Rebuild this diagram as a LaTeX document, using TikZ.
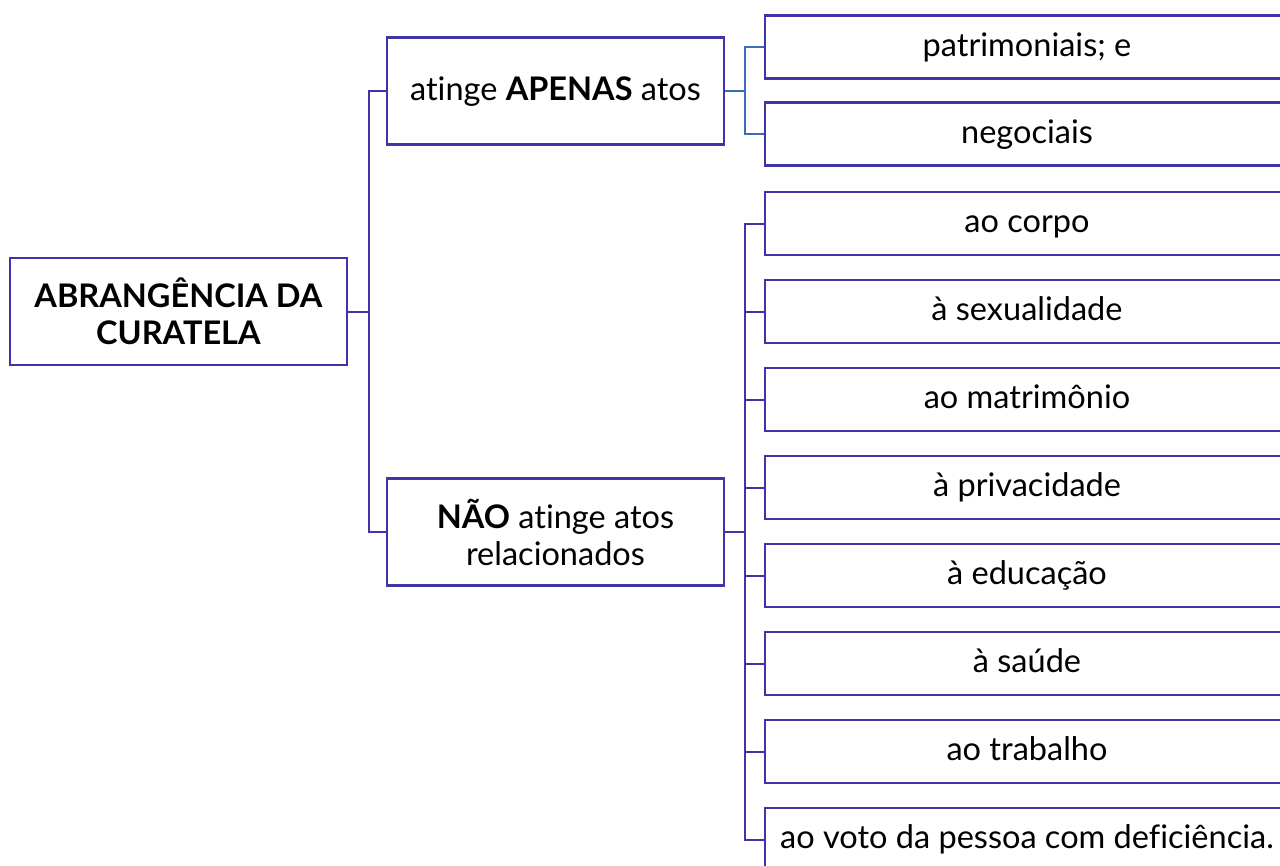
\documentclass[tikz,border=0pt]{standalone}
\usepackage{fontspec}
\setmainfont{Lato}[Ligatures={NoCommon}]
\definecolor{boxc}{HTML}{4035A8}
\definecolor{bluec}{HTML}{3E6DB8}
\begin{document}
\begin{tikzpicture}[x=1pt,y=-1pt,
  box/.style={draw=boxc,line width=2.4pt,fill=white,inner sep=0pt,align=center,
    font=\fontsize{32.5}{37}\selectfont,text=black},
  big/.style={box,minimum width=337pt,minimum height=107pt},
  leaf/.style={box,minimum width=524pt,minimum height=63pt,text height=25pt,text depth=7pt},
  conn/.style={draw=boxc,line width=2pt},
  connb/.style={draw=bluec,line width=2pt}]
\clip (0,0) rectangle (1280,865);
\fill[white] (0,0) rectangle (1280,865);
\node[big] (root) at (178.5,311.5) {\textbf{ABRANGÊNCIA DA}\\\textbf{CURATELA}};
\node[big,text height=25pt,text depth=7pt] (apenas) at (555.5,91) {atinge \textbf{APENAS} atos};
\node[big] (nao) at (555.5,532) {\textbf{NÃO} atinge atos\\relacionados};
\node[leaf] (p1) at (1027,47) {patrimoniais; e};
\node[leaf] (p2) at (1027,134) {negociais};
\node[leaf] (c1) at (1027,223.5) {ao corpo};
\node[leaf] (c2) at (1027,311.5) {à sexualidade};
\node[leaf] (c3) at (1027,399.5) {ao matrimônio};
\node[leaf] (c4) at (1027,487.5) {à privacidade};
\node[leaf] (c5) at (1027,575.5) {à educação};
\node[leaf] (c6) at (1027,663.5) {à saúde};
\node[leaf] (c7) at (1027,751.5) {ao trabalho};
\node[leaf] (c8) at (1027,839.5) {ao voto da pessoa com deficiência.};
\draw[conn] (root.east) -- ++(20.5,0) |- (apenas.west);
\draw[conn] (root.east) -- ++(20.5,0) |- (nao.west);
\draw[connb] (apenas.east) -- ++(20,0) |- (p1.west);
\draw[connb] (apenas.east) -- ++(20,0) |- (p2.west);
\foreach \c in {c1,c2,c3,c4,c5,c6,c7,c8}
  \draw[conn] (nao.east) -- ++(20,0) |- (\c.west);
\end{tikzpicture}
\end{document}
